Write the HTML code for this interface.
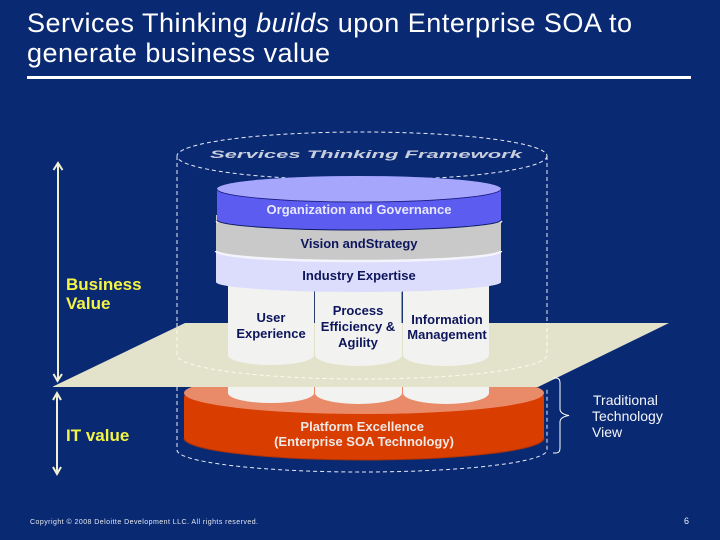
<!DOCTYPE html>
<html>
<head>
<meta charset="utf-8">
<style>
html,body{margin:0;padding:0;background:#0a2973;}
svg{display:block;}
text{font-family:"Liberation Sans",sans-serif;}
</style>
</head>
<body>
<svg width="720" height="540" viewBox="0 0 720 540" xmlns="http://www.w3.org/2000/svg">
<defs><filter id="b" x="-5%" y="-5%" width="110%" height="110%"><feGaussianBlur stdDeviation="0.35"/></filter></defs>
<rect width="720" height="540" fill="#0a2973"/>

<text x="27" y="32" font-size="27" fill="#fff" textLength="605">Services Thinking <tspan font-style="italic">builds</tspan> upon Enterprise SOA to</text>
<text x="27" y="62" font-size="27" fill="#fff" textLength="303">generate business value</text>
<rect x="27" y="76" width="664" height="3" fill="#fff"/>

<g filter="url(#b)">
<!-- dashed cylinder -->
<g fill="none" stroke="#e8ecf4" stroke-width="1" stroke-dasharray="4 3">
<ellipse cx="362" cy="156" rx="185" ry="24"/>
<path d="M177 156V323M547 156V323"/>
<path d="M177 387V450A185 22 0 0 0 547 450V387"/>
</g>
<text x="210" y="158" font-size="11" font-style="italic" font-weight="bold" fill="#c8cedd" textLength="312" lengthAdjust="spacingAndGlyphs">Services Thinking Framework</text>

<!-- platform disc -->
<path d="M184 397A180 21 0 0 1 544 397V438A180 22 0 0 1 184 438Z" fill="#d93c05"/>
<path d="M184 438A180 22 0 0 0 544 438" fill="none" stroke="#a83208" stroke-width="1"/>
<ellipse cx="364" cy="393" rx="180" ry="21" fill="#e98a68"/>
<text font-size="13" font-weight="bold" fill="#f0e8e4" text-anchor="middle">
<tspan x="364" y="431">Platform Excellence</tspan>
<tspan x="364" y="446">(Enterprise SOA Technology)</tspan>
</text>

<!-- lower columns -->
<g fill="#f2f2f0">
<path d="M228 378H314V393A43 10 0 0 1 228 393Z"/>
<path d="M315 378H402V393A43.5 11 0 0 1 315 393Z"/>
<path d="M403 378H489V393A43 11 0 0 1 403 393Z"/>
</g>

<!-- plane -->
<path d="M53 386.500L185 323H669L538 387H53Z" fill="#e3e3cb"/>
<g fill="none" stroke="#fbfbee" stroke-width="1" stroke-dasharray="4 3">
<path d="M177 323V355A185 24 0 0 0 547 355V323"/>
</g>

<!-- upper columns -->
<g fill="#f2f2f0">
<path d="M228 280H314V355A43 10 0 0 1 228 355Z"/>
<path d="M315 280H402V355A43.500 11 0 0 1 315 355Z"/>
<path d="M403 280H489V355A43 11 0 0 1 403 355Z"/>
</g>
<path d="M314.500 292V323M402 292V323" stroke="#2c3c70" stroke-width="1"/>
<g font-size="13" font-weight="bold" fill="#10185c" text-anchor="middle">
<text x="271" y="322">User</text>
<text x="271" y="338">Experience</text>
<text x="358" y="315">Process</text>
<text x="358" y="331">Efficiency &amp;</text>
<text x="358" y="347">Agility</text>
<text x="447" y="324">Information</text>
<text x="447" y="339">Management</text>
</g>

<!-- industry -->
<path d="M216 240H501V282A142.500 10 0 0 1 216 282Z" fill="#dcdcfc"/>
<!-- grey -->
<path d="M216 215H501V251A142.500 10 0 0 1 216 251Z" fill="#c9c9c9"/>
<path d="M216 251A142.500 10 0 0 0 501 251" fill="none" stroke="#f4f4fc" stroke-width="2.500"/>
<!-- purple -->
<path d="M217 189A142 13 0 0 1 501 189V220A142 10 0 0 1 217 220Z" fill="#5b5bf0"/>
<path d="M217 220A142 10 0 0 0 501 220" fill="none" stroke="#0c1a60" stroke-width="1"/>
<path d="M216 221l2 2M502 221l-2 2" stroke="#e8e8e8" stroke-width="1.500"/>
<ellipse cx="359" cy="189" rx="142" ry="13" fill="#a6a6fc"/>
<path d="M217 189A142 13 0 0 0 501 189" fill="none" stroke="#1a1a80" stroke-width="0.800"/>

<text x="359" y="214" font-size="13" font-weight="bold" fill="#e8e8ff" text-anchor="middle">Organization and Governance</text>
<text x="359" y="248" font-size="13" font-weight="bold" fill="#10185c" text-anchor="middle" textLength="117">Vision andStrategy</text>
<text x="359" y="280" font-size="13" font-weight="bold" fill="#10185c" text-anchor="middle">Industry Expertise</text>

<!-- arrows -->
<g fill="none" stroke="#f0f0d4" stroke-width="2">
<path d="M58 164V380"/>
<path d="M53.500 170L58 163L62.500 170"/>
<path d="M53.500 374L57.500 381L62 374"/>
<path d="M57 394V473"/>
<path d="M53 400L57 393L61 400"/>
<path d="M53 467L57 474L61 467"/>
</g>
<g font-size="17" font-weight="bold" fill="#f4f444">
<text x="66" y="290">Business</text>
<text x="66" y="309">Value</text>
<text x="66" y="441">IT value</text>
</g>

<!-- brace -->
<path d="M553 378H556Q560 378 560 383V409Q560 414 569 415.500Q560 417 560 422V448Q560 453 556 453H553" fill="none" stroke="#fff" stroke-width="1"/>
</g>
<g font-size="14" fill="#f4f6fa">
<text x="593" y="405">Traditional</text>
<text x="592" y="421">Technology</text>
<text x="592" y="437">View</text>
</g>

<text x="30" y="524" font-size="7" fill="#e4e8f0" textLength="228" lengthAdjust="spacing">Copyright © 2008 Deloitte Development LLC. All rights reserved.</text>
<text x="684" y="524" font-size="9" fill="#f0f2f6">6</text>
</svg>
</body>
</html>
